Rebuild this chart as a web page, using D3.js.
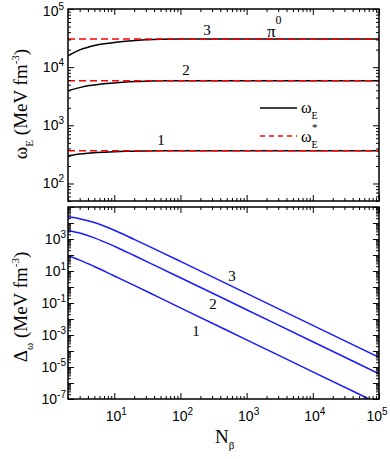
<!DOCTYPE html>
<html>
<head>
<meta charset="utf-8">
<script src="https://cdn.jsdelivr.net/npm/d3@7"></script>
<style>
  body { margin: 0; background: #fff; }
  svg { display: block; }
  .tl { font-family: "Liberation Sans", Arial, sans-serif; font-size: 14px; }
  .serif { font-family: "Liberation Serif", "Times New Roman", serif; }
</style>
</head>
<body>
<div id="chart"></div>
<script>
// top panel: omega_E vs N_beta
var nTop = [2, 3, 4, 5, 7, 10, 15, 20, 30, 50, 100, 100000];
var omega1 = [300, 322, 332, 338, 346, 352, 357, 360, 363, 365, 366, 366];
var omega2 = [3940, 4450, 4800, 4950, 5200, 5350, 5550, 5650, 5750, 5820, 5850, 5850];
var omega3 = [15600, 19800, 22000, 23500, 25300, 26500, 28000, 28700, 29600, 30200, 30500, 30500];
var omegaStar = [366, 5850, 30500];

// bottom panel: Delta_omega vs N_beta
var nBot = [2, 3, 5, 10, 20, 50, 100, 1000, 10000, 100000];
var delta1 = [91, 48, 19, 4.9, 1.26, 0.2, 0.05, 5e-4, 5e-6, 5e-8];
var delta2 = [3400, 2340, 1175, 355, 93, 15, 3.8, 0.038, 3.8e-4, 3.8e-6];
var delta3 = [24500, 18600, 10700, 3550, 955, 158, 40, 0.4, 0.004, 4e-5];

var xExps = [1, 2, 3, 4, 5];
var yTopExps = [2, 3, 4, 5];
var yBotExps = [3, 1, -1, -3, -5, -7];

var W = 390, H = 459;
var left = 68, right = 379;
var top1 = 9, bot1 = 201, top2 = 207, bot2 = 399;

var svg = d3.select("#chart").append("svg")
  .attr("width", W).attr("height", H);

var x = d3.scaleLog().domain([2, 1e5]).range([left, right]);
var yTop = d3.scaleLog().domain([50, 1e5]).range([bot1, top1]);
var yBot = d3.scaleLog().domain([1e-7, 1e5]).range([bot2, top2]);

// tick values
function logTicks(lo, hi) {
  var major = [], minor = [];
  for (var e = Math.floor(Math.log10(lo)); e <= Math.ceil(Math.log10(hi)); e++) {
    for (var m = 1; m < 10; m++) {
      var v = m * Math.pow(10, e);
      if (v < lo * 0.999 || v > hi * 1.001) continue;
      if (m === 1) major.push(v); else minor.push(v);
    }
  }
  return { major: major, minor: minor };
}
var xt = logTicks(2, 1e5), ytt = logTicks(50, 1e5), ybt = logTicks(1e-7, 1e5);

function drawTicks(g, axisFn, scale, vals, size) {
  g.call(axisFn(scale).tickValues(vals).tickSize(size).tickFormat(""))
    .call(function (s) { s.select(".domain").remove(); })
    .selectAll(".tick line").attr("stroke", "#000").attr("stroke-width", 1);
}

function panel(y, yt, yTopPx, yBotPx) {
  var g = svg.append("g");
  drawTicks(g.append("g").attr("transform", "translate(0," + yBotPx + ")"), d3.axisBottom, x, xt.major, -6);
  drawTicks(g.append("g").attr("transform", "translate(0," + yBotPx + ")"), d3.axisBottom, x, xt.minor, -3);
  drawTicks(g.append("g").attr("transform", "translate(0," + yTopPx + ")"), d3.axisTop, x, xt.major, -6);
  drawTicks(g.append("g").attr("transform", "translate(0," + yTopPx + ")"), d3.axisTop, x, xt.minor, -3);
  drawTicks(g.append("g").attr("transform", "translate(" + left + ",0)"), d3.axisLeft, y, yt.major, -6);
  drawTicks(g.append("g").attr("transform", "translate(" + left + ",0)"), d3.axisLeft, y, yt.minor, -3);
  drawTicks(g.append("g").attr("transform", "translate(" + right + ",0)"), d3.axisRight, y, yt.major, -6);
  drawTicks(g.append("g").attr("transform", "translate(" + right + ",0)"), d3.axisRight, y, yt.minor, -3);
  return g;
}

// clip paths
svg.append("clipPath").attr("id", "c1").append("rect")
  .attr("x", left).attr("y", top1).attr("width", right - left).attr("height", bot1 - top1);
svg.append("clipPath").attr("id", "c2").append("rect")
  .attr("x", left).attr("y", top2).attr("width", right - left).attr("height", bot2 - top2);

// top panel curves
var lineTop = d3.line().x(function (d) { return x(d[0]); }).y(function (d) { return yTop(d[1]); })
  .curve(d3.curveMonotoneX);
var gTop = svg.append("g").attr("clip-path", "url(#c1)");
[omega1, omega2, omega3].forEach(function (s) {
  gTop.append("path").datum(nTop.map(function (n, i) { return [n, s[i]]; }))
    .attr("d", lineTop).attr("fill", "none").attr("stroke", "#000").attr("stroke-width", 1.5);
});
omegaStar.forEach(function (v) {
  gTop.append("path").datum([[2, v], [1e5, v]])
    .attr("d", lineTop).attr("fill", "none").attr("stroke", "#f00")
    .attr("stroke-width", 1.6).attr("stroke-dasharray", "7,4");
});

// bottom panel curves
var lineBot = d3.line().x(function (d) { return x(d[0]); }).y(function (d) { return yBot(d[1]); })
  .curve(d3.curveMonotoneX);
var gBot = svg.append("g").attr("clip-path", "url(#c2)");
[delta1, delta2, delta3].forEach(function (s) {
  gBot.append("path").datum(nBot.map(function (n, i) { return [n, s[i]]; }))
    .attr("d", lineBot).attr("fill", "none").attr("stroke", "#1a1aff").attr("stroke-width", 1.5);
});

panel(yTop, ytt, top1, bot1);
panel(yBot, ybt, top2, bot2);

// frames
[[top1, bot1], [top2, bot2]].forEach(function (p) {
  svg.append("rect").attr("x", left).attr("y", p[0]).attr("width", right - left).attr("height", p[1] - p[0])
    .attr("fill", "none").attr("stroke", "#000").attr("stroke-width", 1.5);
});

// power-of-ten label
function powLabel(xp, yp, exp, anchor) {
  var t = svg.append("text").attr("class", "tl").attr("x", xp).attr("y", yp).attr("text-anchor", anchor);
  t.append("tspan").text("10");
  t.append("tspan").attr("dy", -6).attr("font-size", 10).text(exp);
  return t;
}
yTopExps.forEach(function (e) { powLabel(64, Math.max(yTop(Math.pow(10, e)) + 5, 16), e, "end"); });
yBotExps.forEach(function (e) { powLabel(66, yBot(Math.pow(10, e)) + 5, e, "end"); });
xExps.forEach(function (e) { powLabel(Math.min(x(Math.pow(10, e)) + 2, 377), 421, e, "middle"); });

// axis titles
function yTitle(cx, cy, sym, sub) {
  var t = svg.append("text").attr("class", "serif").attr("font-size", 19)
    .attr("text-anchor", "middle")
    .attr("transform", "translate(" + cx + "," + cy + ") rotate(-90)");
  t.append("tspan").text(sym);
  t.append("tspan").attr("dy", 6).attr("font-size", 11).text(sub);
  t.append("tspan").attr("dy", -6).text(" (MeV fm");
  t.append("tspan").attr("dy", -8).attr("font-size", 11).text("-3");
  t.append("tspan").attr("dy", 8).text(")");
}
yTitle(27, 104, "\u03c9", "E");
yTitle(27, 307, "\u0394", "\u03c9");

var xt1 = svg.append("text").attr("class", "serif").attr("font-size", 19).attr("x", 215).attr("y", 443);
xt1.append("tspan").text("N");
xt1.append("tspan").attr("dy", 6).attr("font-size", 11).text("\u03b2");

// curve labels
function lab(xp, yp, s) {
  svg.append("text").attr("class", "serif").attr("font-size", 15).attr("x", xp).attr("y", yp)
    .attr("text-anchor", "middle").text(s);
}
lab(161, 145, "1"); lab(186, 75, "2"); lab(207, 35, "3");
lab(232, 281, "3"); lab(213, 309, "2"); lab(196, 336, "1");
var pi = svg.append("text").attr("class", "serif").attr("font-size", 17).attr("x", 267).attr("y", 37);
pi.append("tspan").text("\u03c0");
pi.append("tspan").attr("dy", -13).attr("font-size", 12).text("0");

// legend
svg.append("line").attr("x1", 260).attr("x2", 297).attr("y1", 108).attr("y2", 108)
  .attr("stroke", "#000").attr("stroke-width", 1.5);
svg.append("line").attr("x1", 260).attr("x2", 297).attr("y1", 136).attr("y2", 136)
  .attr("stroke", "#f00").attr("stroke-width", 1.6).attr("stroke-dasharray", "5,4");
var l1 = svg.append("text").attr("class", "serif").attr("font-size", 16).attr("x", 301).attr("y", 113);
l1.append("tspan").text("\u03c9");
l1.append("tspan").attr("dy", 6).attr("font-size", 10).text("E");
var l2 = svg.append("text").attr("class", "serif").attr("font-size", 16).attr("x", 301).attr("y", 142);
l2.append("tspan").text("\u03c9");
l2.append("tspan").attr("dy", 6).attr("font-size", 10).text("E");
svg.append("text").attr("class", "serif").attr("font-size", 11).attr("x", 312).attr("y", 131).text("*");
</script>
</body>
</html>
